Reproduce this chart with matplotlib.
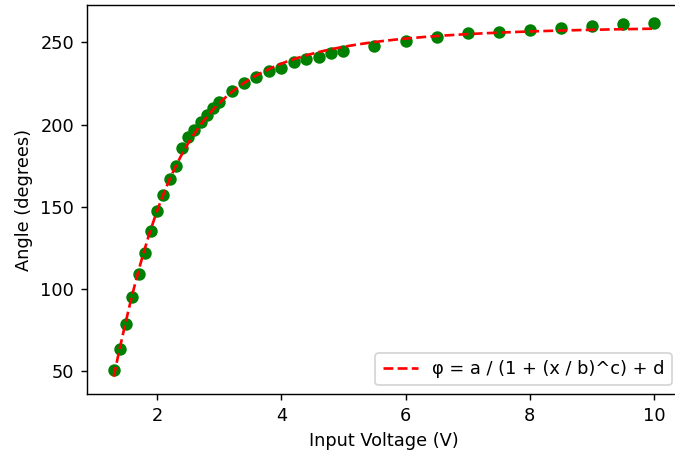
import numpy as np
import matplotlib
matplotlib.use("Agg")
import matplotlib.pyplot as plt

# measured servo angle vs. drive voltage
voltage = [1.3, 1.4, 1.5, 1.6, 1.7, 1.8, 1.9, 2.0, 2.1, 2.2, 2.3, 2.4, 2.5, 2.6,
           2.7, 2.8, 2.9, 3.0, 3.2, 3.4, 3.6, 3.8, 4.0, 4.2, 4.4, 4.6, 4.8, 5.0,
           5.5, 6.0, 6.5, 7.0, 7.5, 8.0, 8.5, 9.0, 9.5, 10.0]
angle = [50.4, 63.3, 78.9, 95.2, 109.1, 121.9, 135.5, 147.3, 157.1, 166.7, 174.8,
         185.5, 192.2, 196.9, 201.6, 206.0, 210.2, 213.6, 220.4, 225.0, 229.2,
         232.7, 234.7, 238.0, 240.0, 241.1, 243.5, 244.5, 247.6, 251.0, 253.1,
         255.5, 256.5, 257.6, 258.6, 259.8, 261.0, 262.0]

# fitted parameters of phi = a / (1 + (x / b)^c) + d
a, b, c, d = -356.0649, 1.50949, 2.72661, 260.3988


def phi(x):
    return a / (1 + (x / b) ** c) + d


DPI = 128
fig = plt.figure(figsize=(675 / DPI, 459 / DPI), dpi=DPI)
# axes runs slightly past the right edge of the canvas
ax = fig.add_axes([0.1284, 0.1410, 0.8803, 0.8481])

ax.scatter(voltage, angle, color="green")
xs = np.linspace(min(voltage), max(voltage), 300)
ax.plot(xs, phi(xs), "r--", label="φ = a / (1 + (x / b)^c) + d")

ax.set_xlabel("Input Voltage (V)")
ax.set_ylabel("Angle (degrees)")
ax.legend(loc="lower right")

fig.savefig("out.png", dpi=DPI)
